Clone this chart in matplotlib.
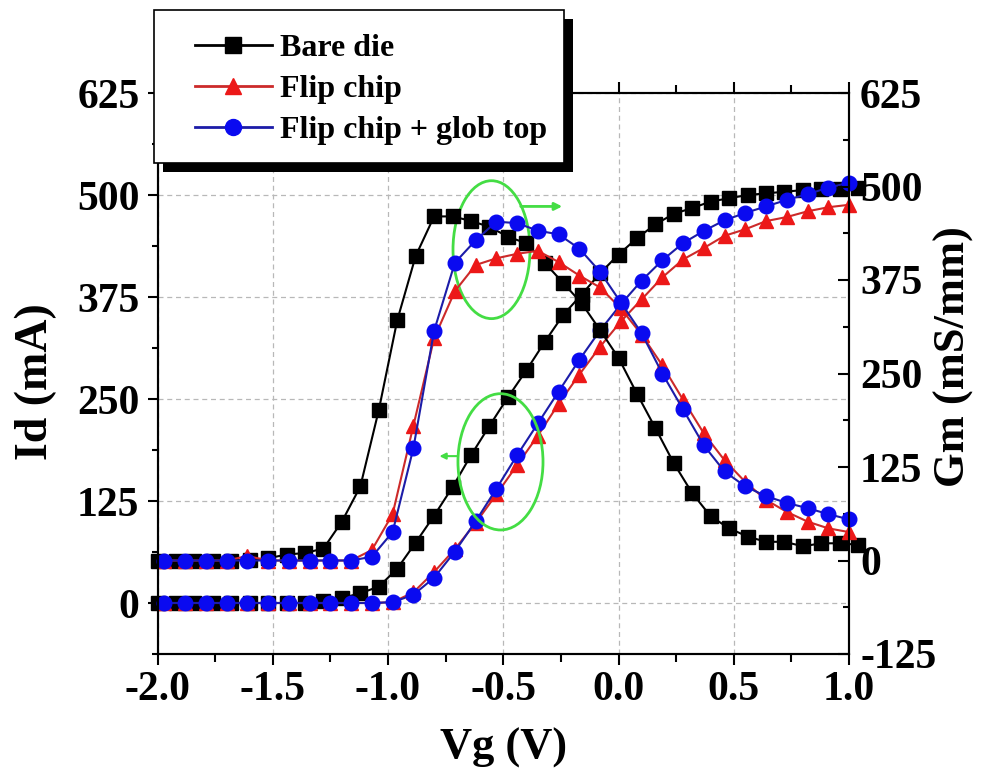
import matplotlib
matplotlib.use("Agg")
import matplotlib.pyplot as plt
from matplotlib.patches import Ellipse, Rectangle
from matplotlib.lines import Line2D
from matplotlib.ticker import MultipleLocator

plt.rcParams['font.family'] = ['Liberation Serif', 'DejaVu Serif']
plt.rcParams['font.weight'] = 'bold'
plt.rcParams['axes.labelweight'] = 'bold'

# ---- measured transfer curves ----
vg_bare = [-2.00, -1.92, -1.84, -1.76, -1.68, -1.60, -1.52, -1.44, -1.36, -1.28,
           -1.20, -1.12, -1.04, -0.96, -0.88, -0.80, -0.72, -0.64, -0.56, -0.48,
           -0.40, -0.32, -0.24, -0.16, -0.08, 0.00, 0.08, 0.16, 0.24, 0.32,
           0.40, 0.48, 0.56, 0.64, 0.72, 0.80, 0.88, 0.96, 1.04]
id_bare = [0, 0, 0, 0, 0, 0, 0, 0, 0, 2,
           6, 12, 20, 42, 74, 107, 142, 181, 217, 252,
           285, 320, 353, 378, 404, 427, 447, 464, 477, 484,
           492, 496, 500, 502, 504, 506, 507, 507, 508]
gm_bare = [0, 0, 0, 0, 0, 1, 3, 8, 10, 16,
           52, 99, 201, 321, 407, 460, 460, 454, 446, 433,
           424, 398, 371, 344, 308, 271, 223, 177, 130, 90,
           59, 43, 32, 25, 25, 19, 23, 23, 21]

vg_flip = [-1.97, -1.88, -1.79, -1.70, -1.61, -1.52, -1.43, -1.34, -1.25, -1.16,
           -1.07, -0.98, -0.89, -0.80, -0.71, -0.62, -0.53, -0.44, -0.35, -0.26,
           -0.17, -0.08, 0.01, 0.10, 0.19, 0.28, 0.37, 0.46, 0.55, 0.64,
           0.73, 0.82, 0.91, 1.00]
id_flip = [0, 0, 0, 0, 0, 0, 0, 0, 0, 0,
           0, 1, 13, 38, 66, 98, 133, 169, 205, 244,
           280, 314, 345, 372, 399, 421, 435, 450, 458, 468,
           473, 480, 485, 488]
gm_flip = [0, 0, 0, 0, 6, 0, 0, 0, 0, 0,
           14, 62, 180, 297, 360, 395, 404, 410, 414, 399,
           381, 365, 337, 302, 261, 215, 170, 134, 105, 81,
           65, 52, 43, 38]

vg_glob = vg_flip
id_glob = [0, 0, 0, 0, 0, 0, 0, 0, 0, 0,
           0, 1, 10, 31, 63, 100, 140, 181, 220, 259,
           298, 334, 366, 395, 420, 441, 456, 469, 478, 486,
           494, 501, 509, 515]
gm_glob = [0, 0, 0, 0, 0, 0, 0, 0, 0, 0,
           5, 38, 150, 307, 398, 428, 453, 451, 441, 436,
           417, 386, 345, 304, 250, 202, 154, 119, 99, 86,
           77, 70, 62, 55]

labels = ["Bare die", "Flip chip", "Flip chip + glob top"]
x_ticks = [-2.0, -1.5, -1.0, -0.5, 0.0, 0.5, 1.0]
x_ticklabels = ["-2.0", "-1.5", "-1.0", "-0.5", "0.0", "0.5", "1.0"]
id_ticks = [0, 125, 250, 375, 500, 625]
gm_ticks = [-125, 0, 125, 250, 375, 500, 625]
gm_ticklabels = ["-125", "0", "125", "250", "375", "500", "625"]

BLACK = "#000000"
RED_M, RED_L = "#ec1818", "#cc2a2a"
BLUE_M, BLUE_L = "#0a0af0", "#1c1ca8"
GREEN = "#44dd44"

styles = [
    dict(color=BLACK, marker="s", mfc=BLACK, mec=BLACK),
    dict(color=RED_L, marker="^", mfc=RED_M, mec=RED_M),
    dict(color=BLUE_L, marker="o", mfc=BLUE_M, mec=BLUE_M),
]
MS, LW = 10.5, 1.5

fig = plt.figure(figsize=(9.85, 7.78), dpi=100)
ax = fig.add_axes([157.5 / 985, 1 - 654 / 778, (849 - 157.5) / 985, (654 - 93) / 778])
ax2 = ax.twinx()

series = [(vg_bare, id_bare, gm_bare), (vg_flip, id_flip, gm_flip), (vg_glob, id_glob, gm_glob)]
for (vg, idv, gmv), st in zip(series, styles):
    ax.plot(vg, idv, lw=LW, ms=MS, clip_on=False, **st)
    ax2.plot(vg, gmv, lw=LW, ms=MS, clip_on=False, **st)

# axes ranges and ticks
ax.set_xlim(-2.0, 1.0)
ax.set_ylim(-62.5, 625)
ax2.set_ylim(-125, 625)
ax.set_xticks(x_ticks)
ax.set_xticklabels(x_ticklabels)
ax.set_yticks(id_ticks)
ax2.set_yticks(gm_ticks)
ax2.set_yticklabels(gm_ticklabels)
ax.xaxis.set_minor_locator(MultipleLocator(0.25))
ax.yaxis.set_minor_locator(MultipleLocator(62.5))
ax2.yaxis.set_minor_locator(MultipleLocator(62.5))

TFS = 30
ax.tick_params(axis="x", which="both", top=True, direction="out", labelsize=TFS, pad=4)
ax.tick_params(axis="x", which="major", length=8, width=1.5)
ax.tick_params(axis="x", which="minor", length=5.5, width=1.5)
ax.tick_params(axis="y", which="both", direction="out", labelsize=TFS, pad=6)
ax.tick_params(axis="y", which="major", length=7, width=1.5)
ax.tick_params(axis="y", which="minor", length=4, width=1.5)
ax2.tick_params(axis="y", which="both", direction="in", labelsize=TFS, pad=8)
ax2.tick_params(axis="y", which="major", length=8, width=1.5)
ax2.tick_params(axis="y", which="minor", length=4.5, width=1.5)

for a in (ax, ax2):
    for sp in a.spines.values():
        sp.set_linewidth(1.5)

ax.grid(True, which="major", linestyle=(0, (4, 3)), color="#b8b8b8", linewidth=0.9)

ax.set_xlabel("Vg (V)", fontsize=32)
ax.set_ylabel("Id (mA)", fontsize=33)
ax2.set_ylabel("Gm (mS/mm)", fontsize=32)
ax.xaxis.set_label_coords(0.5, -0.132)
ax.yaxis.set_label_coords(-0.145, 0.485)
ax2.yaxis.set_label_coords(1.122, 0.531)

# highlight ellipses and direction arrows
ax.add_patch(Ellipse((-0.551, 433), 0.334, 169, fill=False, ec=GREEN, lw=2, zorder=6))
ax.add_patch(Ellipse((-0.512, 173), 0.369, 167, fill=False, ec=GREEN, lw=2, zorder=6))
ax.annotate("", xy=(-0.232, 486), xytext=(-0.436, 486),
            arrowprops=dict(arrowstyle="-|>", color=GREEN, lw=2, mutation_scale=11), zorder=6)
ax.annotate("", xy=(-0.789, 180), xytext=(-0.688, 180),
            arrowprops=dict(arrowstyle="-|>", color=GREEN, lw=1.5, mutation_scale=9), zorder=6)

# legend box (pixel coordinates) with a solid drop shadow
W, H = 985, 778
box_l, box_t, box_r, box_b = 154, 9.5, 564, 163
fig.add_artist(Rectangle(((box_l + 9) / W, 1 - (box_b + 9) / H), (box_r - box_l) / W,
                         (box_b - box_t) / H, transform=fig.transFigure,
                         facecolor="black", edgecolor="none", zorder=18))
fig.add_artist(Rectangle((box_l / W, 1 - box_b / H), (box_r - box_l) / W,
                         (box_b - box_t) / H, transform=fig.transFigure,
                         facecolor="white", edgecolor="black", lw=1.2, zorder=19))

handles = [Line2D([], [], lw=2, ms=MS + 1, **st) for st in styles]
leg = fig.legend(handles, labels, loc="upper left",
                 bbox_to_anchor=(195 / W, 1 - 34 / H), bbox_transform=fig.transFigure,
                 borderaxespad=0, borderpad=0, frameon=False,
                 prop=dict(size=23, weight="bold"), handlelength=2.4, handletextpad=0.25,
                 labelspacing=0.36)
leg.set_zorder(20)

fig.savefig("out.png", dpi=100)
